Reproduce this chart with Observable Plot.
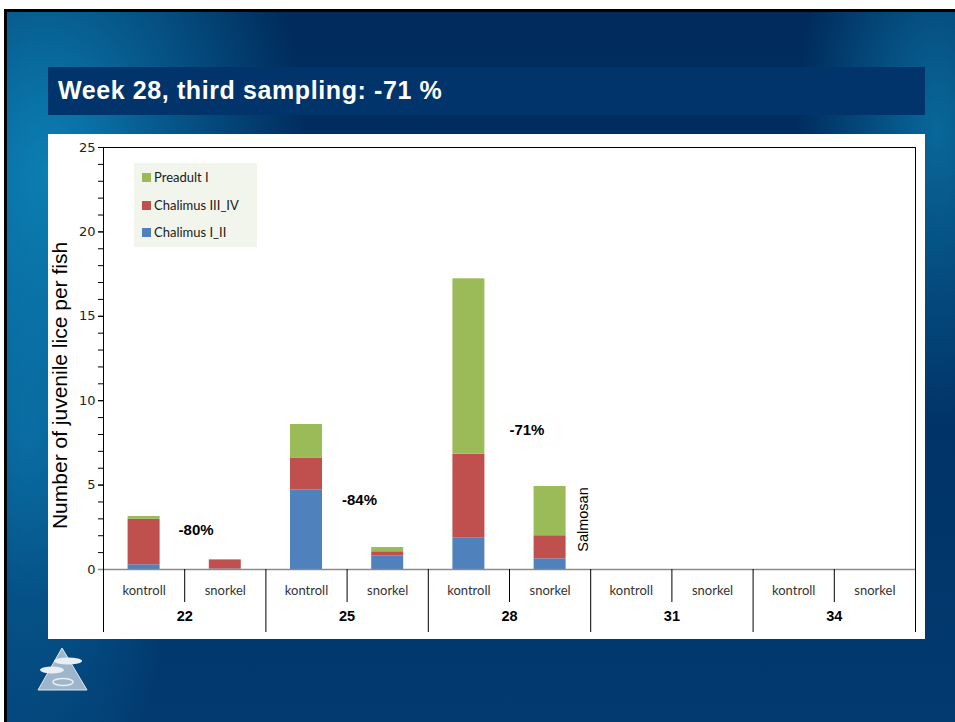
<!DOCTYPE html>
<html>
<head>
<meta charset="utf-8">
<script src="https://cdn.jsdelivr.net/npm/d3@7"></script>
<script src="https://cdn.jsdelivr.net/npm/@observablehq/plot@0.6"></script>
<style>
  html, body { margin: 0; padding: 0; background: #fff; }
  body { width: 955px; height: 722px; position: relative; overflow: hidden; }
  #slide {
    position: absolute; left: 4px; top: 9px; width: 951px; height: 713px;
    border-top: 3px solid #000; border-left: 3px solid #000; box-sizing: border-box;
    background:
      radial-gradient(ellipse 260px 420px at 40px 160px, rgba(12,130,182,0.95) 0%, rgba(12,130,182,0) 100%),
      radial-gradient(ellipse 140px 300px at 930px 120px, rgba(10,110,160,0.9) 0%, rgba(10,110,160,0) 100%),
      radial-gradient(ellipse 160px 420px at 20px 420px, rgba(10,110,165,0.8) 0%, rgba(10,110,165,0) 100%),
      linear-gradient(180deg, #002b5c 0%, #003266 55%, #023b70 100%);
  }
  #banner {
    position: absolute; left: 48px; top: 67px; width: 877px; height: 48px;
    background: #00346a;
  }
  #banner span {
    position: absolute; left: 10px; top: 9px;
    font: bold 25px "Liberation Sans", Arial, sans-serif; letter-spacing: 0.6px; color: #fff;
  }
  #panel {
    position: absolute; left: 48px; top: 134px; width: 877px; height: 505px; background: #fff;
  }
  #legend {
    position: absolute; left: 86px; top: 29px; width: 123px; height: 84px;
    background: #f2f5ec;
  }
  .li { position: absolute; left: 8px; height: 16px; font: 13px Lato, sans-serif; color: #1a1a1a; line-height: 16px; white-space: nowrap; }
  .li i { display: inline-block; width: 9px; height: 9px; margin-right: 3px; vertical-align: -0px; }
  #panel svg g[aria-label*="y-axis"] text { font: 13px "DejaVu Sans", sans-serif; fill: #222; }
  #panel svg g[aria-label*="x-axis"] text { font: 13px Lato, sans-serif; fill: #333; }
  #logo { position: absolute; left: 36px; top: 646px; }
</style>
</head>
<body>
<div id="slide"></div>
<div id="banner"><span>Week 28, third sampling: -71 %</span></div>
<div id="panel"><div id="legend"></div></div>
<svg id="logo" width="56" height="48" viewBox="0 0 56 48">
  <polygon points="26,2 51,44 2,44" fill="#b9c9d8" fill-opacity="0.85" stroke="#dfe8f0" stroke-width="1"/>
  <ellipse cx="32" cy="15" rx="14" ry="3.5" fill="#e8eef4"/>
  <ellipse cx="16" cy="24" rx="12" ry="3.5" fill="#e8eef4"/>
  <ellipse cx="27" cy="36" rx="10" ry="3.5" fill="none" stroke="#e8eef4" stroke-width="1.5"/>
</svg>
<script>
// ---- data ----
const weeks = ["22", "25", "28", "31", "34"];
const groups = ["kontroll", "snorkel"];
const stages = ["Chalimus I_II", "Chalimus III_IV", "Preadult I"];
const stageColors = ["#4f81bd", "#c0504d", "#9bbb59"];
// values per bar, order: 22 kontroll, 22 snorkel, 25 kontroll, 25 snorkel, ...
const chalimusI_II   = [0.28, 0.03, 4.72, 0.81, 1.88, 0.63, 0, 0, 0, 0];
const chalimusIII_IV = [2.69, 0.54, 1.86, 0.24, 4.95, 1.37, 0, 0, 0, 0];
const preadultI      = [0.17, 0.00, 2.01, 0.25, 10.39, 2.92, 0, 0, 0, 0];
const yTicks = [0, 5, 10, 15, 20, 25];
const yMinorTicks = d3.range(0, 26, 1);
const reductionWeeks = ["22", "25", "28"];
const reductionText = ["-80%", "-84%", "-71%"];
const reductionY = [2.35, 4.09, 8.28];
const treatmentWeek = "28";
const treatmentText = "Salmosan";
const treatmentY = 2.96;
const yLabel = "Number of juvenile lice per fish";

// ---- build table ----
const keys = weeks.flatMap(w => groups.map(g => w + " " + g));
const seriesValues = [chalimusI_II, chalimusIII_IV, preadultI];
const data = [];
stages.forEach((s, si) => keys.forEach((k, i) => data.push({key: k, stage: s, value: seriesValues[si][i]})));

const W = 877, H = 505, mL = 55, mR = 10, mT = 13, mB = 70;
const band = (W - mL - mR) / keys.length;
const frameH = H - mT - mB;
const barInset = (band - 32) / 2;

const annoDx = [52, 53, 58];
const annoMarks = reductionWeeks.map((w, i) =>
  Plot.text([{key: w + " kontroll", y: reductionY[i], t: reductionText[i]}], {
    x: "key", y: "y", text: "t", dx: annoDx[i],
    fontSize: 15, fontWeight: "bold", fontFamily: "Liberation Sans, Arial, sans-serif", fill: "#000"
  })
);

const chart = Plot.plot({
  width: W, height: H,
  marginLeft: mL, marginRight: mR, marginTop: mT, marginBottom: mB,
  style: {background: "transparent", color: "#000", fontFamily: "Liberation Sans, Arial, sans-serif", overflow: "visible"},
  x: {domain: keys, padding: 0, round: false, tickSize: 0, tickPadding: 16,
      tickFormat: d => d.split(" ")[1], label: null},
  y: {domain: [0, 25], ticks: yTicks, tickSize: 5, tickPadding: 3, label: null},
  color: {domain: stages, range: stageColors},
  marks: [
    // minor ticks on y axis
    Plot.ruleY(yMinorTicks, {insetLeft: -5, insetRight: W - mL - mR, stroke: "#000", strokeWidth: 1}),
    // bars
    Plot.barY(data, {x: "key", y: "value", fill: "stage", insetLeft: barInset, insetRight: barInset}),
    // top frame
    Plot.ruleY([25], {stroke: "#000", strokeWidth: 1}),
    // baseline
    Plot.ruleY([0], {stroke: "#8c8c8c", strokeWidth: 1.3, insetLeft: -5}),
    // short separators between kontroll / snorkel
    Plot.ruleX(weeks.map(w => w + " snorkel"), {dx: -band / 2, insetTop: frameH, insetBottom: -33, stroke: "#000"}),
    // long separators between weeks
    Plot.ruleX(weeks.slice(1).map(w => w + " kontroll"), {dx: -band / 2, insetTop: frameH, insetBottom: -63, stroke: "#000"}),
    // left axis line and right frame line
    Plot.ruleX([keys[0]], {dx: -band / 2, insetBottom: -63, stroke: "#000"}),
    Plot.ruleX([keys[keys.length - 1]], {dx: band / 2, insetBottom: -63, stroke: "#000"}),
    // week labels
    Plot.text(weeks, {x: d => d + " kontroll", text: d => d, dx: band / 2, frameAnchor: "bottom", dy: 51,
      fontSize: 14.5, fontWeight: "bold", fill: "#000"}),
    // annotations
    ...annoMarks,
    Plot.text([{key: treatmentWeek + " snorkel", y: treatmentY, t: treatmentText}], {
      x: "key", y: "y", text: "t", dx: 33, rotate: -90, fontSize: 14.5, fill: "#000"
    }),
    // y label
    Plot.text([yLabel], {text: d => d, frameAnchor: "left", textAnchor: "middle", dx: -43, dy: 27, rotate: -90, fontSize: 21, fill: "#000"})
  ]
});
chart.style.position = "absolute";
chart.style.left = "0px";
chart.style.top = "0px";
document.getElementById("panel").appendChild(chart);

// legend (drawn above the plot, from the same arrays)
const legend = document.getElementById("legend");
legend.style.zIndex = 2;
const legendOrder = [2, 1, 0];
legendOrder.forEach((si, row) => {
  const div = document.createElement("div");
  div.className = "li";
  div.style.top = (6 + row * 27.5) + "px";
  const sw = document.createElement("i");
  sw.style.background = stageColors[si];
  div.appendChild(sw);
  div.appendChild(document.createTextNode(stages[si]));
  legend.appendChild(div);
});
</script>
</body>
</html>
